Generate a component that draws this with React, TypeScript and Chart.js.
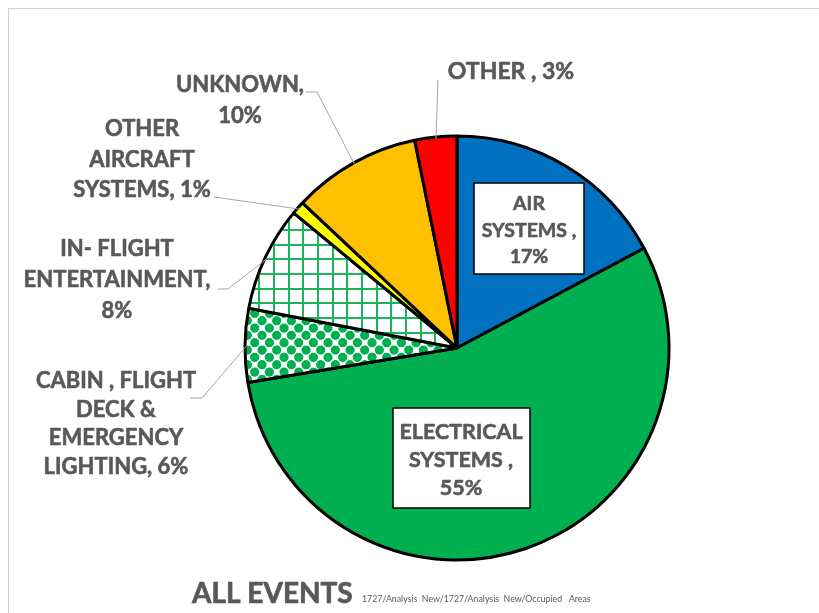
import React, { useEffect, useRef } from "react";
import { Chart, registerables } from "chart.js";

Chart.register(...registerables);

const categories = [
  "AIR SYSTEMS",
  "ELECTRICAL SYSTEMS",
  "CABIN , FLIGHT DECK & EMERGENCY LIGHTING",
  "IN- FLIGHT ENTERTAINMENT",
  "OTHER AIRCRAFT SYSTEMS",
  "UNKNOWN",
  "OTHER",
];
const values = [17.2, 55.2, 5.6, 8.0, 1.0, 9.8, 3.2];
const labelNameLines = [
  ["AIR", "SYSTEMS ,"],
  ["ELECTRICAL", "SYSTEMS ,"],
  ["CABIN , FLIGHT", "DECK &", "EMERGENCY", "LIGHTING,"],
  ["IN- FLIGHT", "ENTERTAINMENT,"],
  ["OTHER", "AIRCRAFT", "SYSTEMS,"],
  ["UNKNOWN,"],
  ["OTHER ,"],
];
const pctOnNewLine = [true, true, false, true, false, true, false];
const titleText = "ALL EVENTS";
const subText = "1727/Analysis  New/1727/Analysis  New/Occupied   Areas";

const OFF = 9; // canvas offset within the page
const CW = 810;
const CH = 604;
const CX = 457; // page coords of pie centre
const CY = 348;
const R = 212;
const BW = 3;

type Lay = {
  cx: number;
  y0: number;
  lh: number;
  size: number;
  box?: number[];
  leader?: number[][];
};
const layouts: Lay[] = [
  { cx: 529, y0: 204, lh: 26.5, size: 19.5, box: [474, 183, 584, 274] },
  { cx: 461, y0: 432, lh: 28, size: 21.5, box: [393, 408, 530, 508] },
  { cx: 116, y0: 381, lh: 28.7, size: 22, leader: [[202, 398], [190, 398]] },
  { cx: 117, y0: 249, lh: 31, size: 22, leader: [[228, 289], [218, 289]] },
  { cx: 142, y0: 129, lh: 30.5, size: 22, leader: [[214, 197]] },
  { cx: 240, y0: 85, lh: 31, size: 22, leader: [[317, 92], [306, 92]] },
  { cx: 511, y0: 72, lh: 30, size: 23, leader: [[438, 80]] },
];

const FONT = "Lato, 'Open Sans', sans-serif";
const TEXT = "#595959";

function makeDots(): CanvasPattern | string {
  const c = document.createElement("canvas");
  c.width = 44;
  c.height = 44;
  const g = c.getContext("2d");
  if (!g) return "#00B050";
  g.fillStyle = "#ffffff";
  g.fillRect(0, 0, 44, 44);
  g.fillStyle = "#00B050";
  const s = 44 / 3;
  for (let i = -1; i <= 3; i++) {
    for (let j = -1; j <= 6; j++) {
      const y = j * (s / 2) + 3.7;
      const x = i * s + (j % 2 === 0 ? 3.7 : 3.7 + s / 2);
      g.beginPath();
      g.arc(x, y, 4.6, 0, Math.PI * 2);
      g.fill();
    }
  }
  return g.createPattern(c, "repeat") || "#00B050";
}

function makeGrid(): CanvasPattern | string {
  const c = document.createElement("canvas");
  c.width = 44;
  c.height = 44;
  const g = c.getContext("2d");
  if (!g) return "#00B050";
  g.fillStyle = "#ffffff";
  g.fillRect(0, 0, 44, 44);
  g.fillStyle = "#1db460";
  const s = 44 / 3;
  for (let i = 0; i < 3; i++) {
    const p = Math.round(i * s);
    g.fillRect(p, 0, 2, 44);
    g.fillRect(0, p, 44, 2);
  }
  return g.createPattern(c, "repeat") || "#00B050";
}

export default function App() {
  const ref = useRef<HTMLCanvasElement | null>(null);
  useEffect(() => {
    const canvas = ref.current;
    if (!canvas) return;
    const total = values.reduce((a, b) => a + b, 0);
    const colors: (string | CanvasPattern)[] = [
      "#0070C0",
      "#00B050",
      makeDots(),
      makeGrid(),
      "#FFFF00",
      "#FFC000",
      "#FF0000",
    ];
    const side = 2 * R + BW;
    const pcx = CX - OFF;
    const pcy = CY - OFF;

    const labelPlugin = {
      id: "labels",
      afterDatasetsDraw(chart: any) {
        const ctx = chart.ctx as CanvasRenderingContext2D;
        const meta = chart.getDatasetMeta(0);
        ctx.save();
        ctx.translate(-OFF, -OFF);
        // leader lines
        meta.data.forEach((arc: any, i: number) => {
          const L = layouts[i];
          if (!L.leader) return;
          const p = arc.getProps(["x", "y", "startAngle", "endAngle", "outerRadius"], true);
          const a = (p.startAngle + p.endAngle) / 2;
          const sx = p.x + OFF + (p.outerRadius - 2) * Math.cos(a);
          const sy = p.y + OFF + (p.outerRadius - 2) * Math.sin(a);
          ctx.beginPath();
          ctx.moveTo(sx, sy);
          L.leader.forEach((pt) => ctx.lineTo(pt[0], pt[1]));
          ctx.strokeStyle = "#a6a6a6";
          ctx.lineWidth = 1;
          ctx.stroke();
        });
        // labels
        ctx.textAlign = "center";
        ctx.textBaseline = "middle";
        values.forEach((v, i) => {
          const L = layouts[i];
          const pct = Math.round((v / total) * 100) + "%";
          const lines = labelNameLines[i].slice();
          if (pctOnNewLine[i]) lines.push(pct);
          else lines[lines.length - 1] = lines[lines.length - 1] + " " + pct;
          if (L.box) {
            const b = L.box;
            ctx.fillStyle = "#ffffff";
            ctx.fillRect(b[0], b[1], b[2] - b[0], b[3] - b[1]);
            ctx.strokeStyle = "#000000";
            ctx.lineWidth = 1.5;
            ctx.strokeRect(b[0], b[1], b[2] - b[0], b[3] - b[1]);
          }
          ctx.fillStyle = TEXT;
          ctx.strokeStyle = TEXT;
          ctx.lineWidth = 0.6;
          ctx.lineJoin = "round";
          ctx.font = "bold " + L.size + "px " + FONT;
          lines.forEach((t, k) => {
            ctx.fillText(t, L.cx, L.y0 + k * L.lh);
            ctx.strokeText(t, L.cx, L.y0 + k * L.lh);
          });
        });
        // title
        ctx.textAlign = "left";
        ctx.textBaseline = "alphabetic";
        ctx.fillStyle = TEXT;
        ctx.strokeStyle = TEXT;
        ctx.lineWidth = 0.7;
        ctx.font = "bold 28px " + FONT;
        ctx.fillText(titleText, 192, 603);
        ctx.strokeText(titleText, 192, 603);
        ctx.font = "8.8px " + FONT;
        ctx.fillText(subText, 362, 602);
        ctx.restore();
      },
    };

    const chart = new Chart(canvas, {
      type: "pie",
      data: {
        labels: categories,
        datasets: [
          {
            data: values,
            backgroundColor: colors as any,
            borderColor: "#000000",
            borderWidth: BW,
          },
        ],
      },
      options: {
        responsive: false,
        animation: false,
        layout: {
          padding: {
            left: pcx - side / 2,
            right: CW - pcx - side / 2,
            top: pcy - side / 2,
            bottom: CH - pcy - side / 2,
          },
        },
        plugins: {
          legend: { display: false },
          tooltip: { enabled: false },
          title: { display: false },
        },
      },
      plugins: [labelPlugin],
    });
    return () => chart.destroy();
  }, []);

  return (
    <div
      style={{
        position: "fixed",
        left: 8,
        top: 8,
        width: 811,
        height: 605,
        borderLeft: "1px solid #d0d0d0",
        borderTop: "1px solid #d0d0d0",
        boxSizing: "border-box",
        background: "#ffffff",
      }}
    >
      <canvas ref={ref} width={CW} height={CH} style={{ display: "block" }} />
    </div>
  );
}
